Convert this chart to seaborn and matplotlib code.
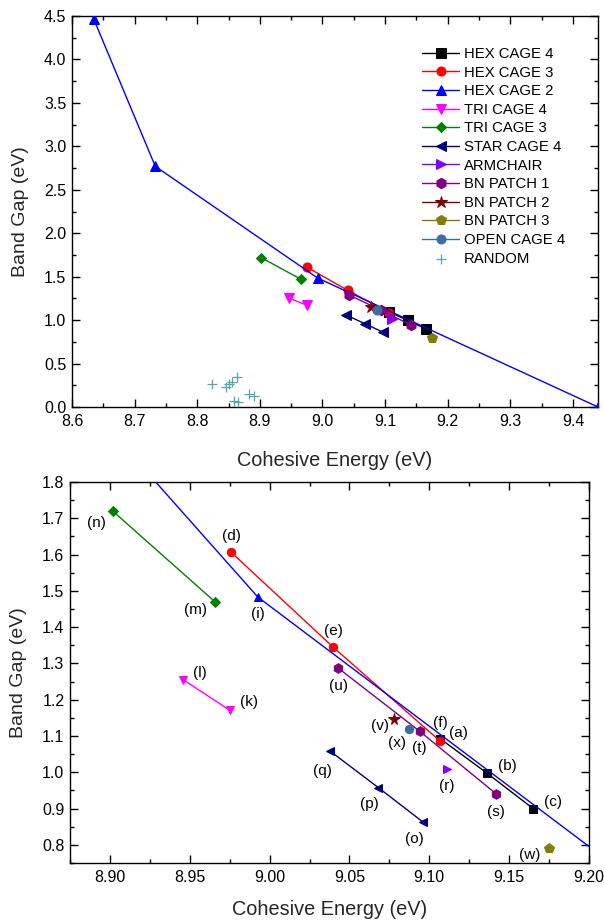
import matplotlib
matplotlib.use("Agg")
import matplotlib.pyplot as plt
from matplotlib.ticker import MultipleLocator, FormatStrFormatter
import seaborn as sns
import pandas as pd

# ---------------- data ----------------
series_names = ["HEX CAGE 4", "HEX CAGE 3", "HEX CAGE 2", "TRI CAGE 4", "TRI CAGE 3",
                "STAR CAGE 4", "ARMCHAIR", "BN PATCH 1", "BN PATCH 2", "BN PATCH 3",
                "OPEN CAGE 4"]

hex4_x = [9.107, 9.136, 9.165]
hex4_y = [1.092, 0.998, 0.900]
hex4_lab = ["(a)", "(b)", "(c)"]

hex3_x = [8.976, 9.040, 9.107]
hex3_y = [1.606, 1.344, 1.085]
hex3_lab = ["(d)", "(e)", "(f)"]

hex2_x = [8.635, 8.733, 8.9926, 9.44]
hex2_y = [4.46, 2.77, 1.483, 0.0]
hex2_lab = [None, None, "(i)", None]

tri4_x = [8.946, 8.975]
tri4_y = [1.255, 1.171]
tri4_lab = ["(l)", "(k)"]

tri3_x = [8.902, 8.966]
tri3_y = [1.719, 1.469]
tri3_lab = ["(n)", "(m)"]

star4_x = [9.038, 9.068, 9.096]
star4_y = [1.058, 0.958, 0.863]
star4_lab = ["(q)", "(p)", "(o)"]

arm_x = [9.111]
arm_y = [1.009]
arm_lab = ["(r)"]

bn1_x = [9.043, 9.094, 9.142]
bn1_y = [1.287, 1.113, 0.940]
bn1_lab = ["(u)", "(t)", "(s)"]

bn2_x = [9.078]
bn2_y = [1.148]
bn2_lab = ["(v)"]

bn3_x = [9.175]
bn3_y = [0.792]
bn3_lab = ["(w)"]

open4_x = [9.087]
open4_y = [1.119]
open4_lab = ["(x)"]

random_x = [8.824, 8.846, 8.851, 8.856, 8.863, 8.858, 8.865, 8.883, 8.891]
random_y = [0.270, 0.232, 0.263, 0.293, 0.348, 0.070, 0.054, 0.147, 0.124]

xs = [hex4_x, hex3_x, hex2_x, tri4_x, tri3_x, star4_x, arm_x, bn1_x, bn2_x, bn3_x, open4_x]
ys = [hex4_y, hex3_y, hex2_y, tri4_y, tri3_y, star4_y, arm_y, bn1_y, bn2_y, bn3_y, open4_y]
labs = [hex4_lab, hex3_lab, hex2_lab, tri4_lab, tri3_lab, star4_lab, arm_lab, bn1_lab,
        bn2_lab, bn3_lab, open4_lab]

# ---------------- styles ----------------
colors = ["#000000", "#ff0000", "#0000ff", "#ff00ff", "#008000", "#000080",
          "#8000ff", "#800080", "#800000", "#808000", "#3a6ea5"]
markers = ["s", "o", "^", "v", "D", "<", ">", "h", "*", "p", "o"]
random_color = "#5aa5ab"

# label offsets (points) for bottom-panel annotations
label_offsets = {
    "(a)": (13, 4), "(b)": (15, 5), "(c)": (14, 5), "(d)": (0, 12), "(e)": (0, 12),
    "(f)": (0, 13), "(i)": (0, -12), "(k)": (14, 6), "(l)": (12, 5), "(m)": (-14, -6),
    "(n)": (-12, -8), "(o)": (-6, -12), "(p)": (-6, -12), "(q)": (-6, -14),
    "(r)": (0, -12), "(s)": (0, -13), "(t)": (0, -12), "(u)": (0, -13),
    "(v)": (-10, -5), "(w)": (-14, -5), "(x)": (-8, -10),
}

rows = []
for name, xv, yv, lv in zip(series_names, xs, ys, labs):
    for x, y, l in zip(xv, yv, lv):
        rows.append({"series": name, "x": x, "y": y, "label": l})
df = pd.DataFrame(rows)
df_rand = pd.DataFrame({"x": random_x, "y": random_y})

sns.set_style("white")
plt.rcParams["font.family"] = ["Liberation Sans", "DejaVu Sans"]

fig = plt.figure(figsize=(6.04, 9.23), dpi=100)
W, H = 604, 923
ax1 = fig.add_axes([72 / W, 1 - 407 / H, (598 - 72) / W, (407 - 16) / H])
ax2 = fig.add_axes([70 / W, 1 - 863 / H, (589 - 70) / W, (863 - 482) / H])


def draw(ax, ms, lw, legend):
    for name, c, m in zip(series_names, colors, markers):
        sub = df[df["series"] == name]
        msz = ms
        if m == "*":
            msz = ms * 1.4
        elif m in ("h", "p"):
            msz = ms * 1.15
        elif m == "D":
            msz = ms * 0.85
        elif m in ("^", "v", "<", ">"):
            msz = ms * 1.05
        sns.lineplot(data=sub, x="x", y="y", ax=ax, color=c, marker=m, markersize=msz,
                     markeredgecolor=c, linewidth=lw, sort=False, estimator=None,
                     label=name if legend else None, zorder=3)


draw(ax1, 6.5, 1.0, True)
sns.scatterplot(data=df_rand, x="x", y="y", ax=ax1, marker="+", color=random_color,
                s=60, linewidth=0.9, label="RANDOM", zorder=3)

draw(ax2, 6.0, 1.0, False)
if ax2.get_legend():
    ax2.get_legend().remove()

for _, r in df.dropna(subset=["label"]).iterrows():
    dx, dy = label_offsets[r["label"]]
    ax2.annotate(r["label"], (r["x"], r["y"]), xytext=(dx, dy), textcoords="offset points",
                 ha="center", va="center", fontsize=11, color="#000000")

# ---------------- axes formatting ----------------
ax1.set_xlim(8.6, 9.44)
ax1.set_ylim(0.0, 4.5)
ax1.xaxis.set_major_locator(MultipleLocator(0.1))
ax1.xaxis.set_minor_locator(MultipleLocator(0.05))
ax1.yaxis.set_major_locator(MultipleLocator(0.5))
ax1.yaxis.set_minor_locator(MultipleLocator(0.25))
ax1.xaxis.set_major_formatter(FormatStrFormatter("%.1f"))
ax1.yaxis.set_major_formatter(FormatStrFormatter("%.1f"))

ax2.set_xlim(8.875, 9.20)
ax2.set_ylim(0.75, 1.8)
ax2.xaxis.set_major_locator(MultipleLocator(0.05))
ax2.xaxis.set_minor_locator(MultipleLocator(0.025))
ax2.yaxis.set_major_locator(MultipleLocator(0.1))
ax2.yaxis.set_minor_locator(MultipleLocator(0.05))
ax2.xaxis.set_major_formatter(FormatStrFormatter("%.2f"))
ax2.yaxis.set_major_formatter(FormatStrFormatter("%.1f"))

for ax, xpad in ((ax1, 16), (ax2, 11)):
    for sp in ax.spines.values():
        sp.set_visible(True)
        sp.set_color("#000000")
        sp.set_linewidth(1.0)
    ax.tick_params(which="both", direction="in", top=True, right=True, bottom=True,
                   left=True, colors="#000000", labelsize=11.5, width=1.0)
    ax.tick_params(which="major", length=6)
    ax.tick_params(which="minor", length=3)
    ax.tick_params(axis="x", which="major", pad=5)
    ax.tick_params(axis="y", which="major", pad=4)
    ax.set_xlabel("Cohesive Energy (eV)", fontsize=14.3, labelpad=xpad)
    ax.set_ylabel("Band Gap (eV)", fontsize=14, labelpad=11)
    ax.grid(False)

leg = ax1.legend(loc="upper left", bbox_to_anchor=(422 / W, 1 - 47 / H),
                 bbox_transform=fig.transFigure, frameon=False, fontsize=10.7,
                 handlelength=2.5, handletextpad=0.3, labelspacing=0.31,
                 borderaxespad=0, borderpad=0)
for t in leg.get_texts():
    t.set_color("#000000")

fig.savefig("out.png", dpi=100)
